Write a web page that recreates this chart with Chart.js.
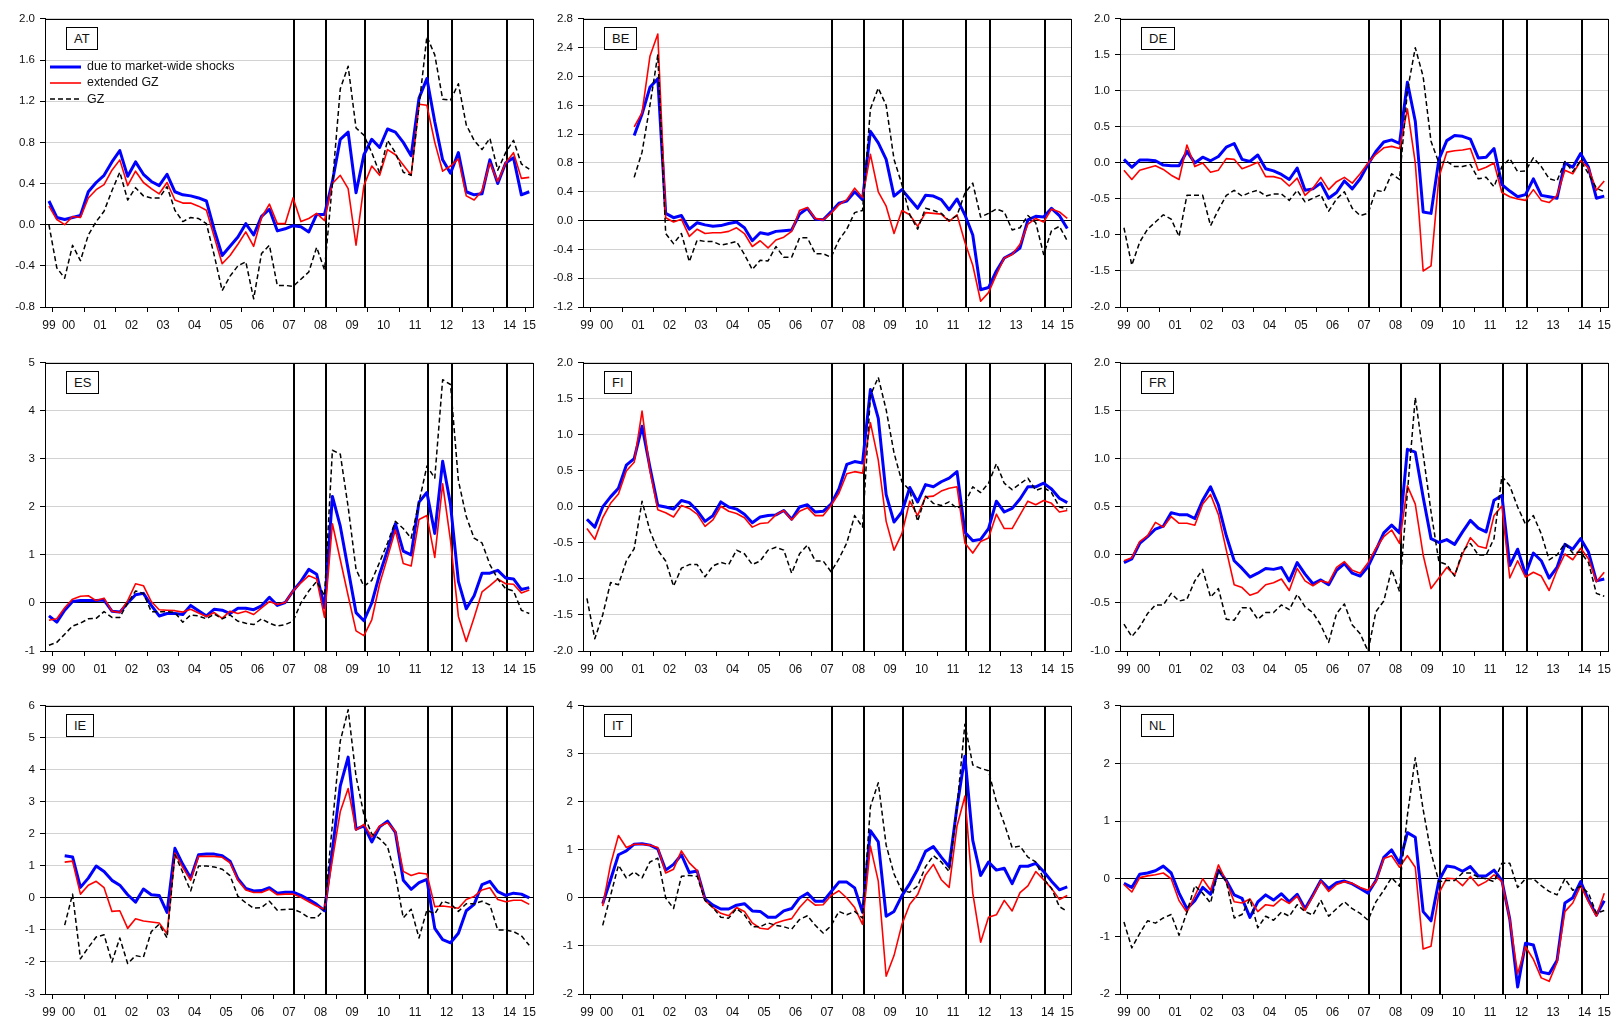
<!DOCTYPE html>
<html>
<head>
<meta charset="utf-8">
<script src="https://cdn.jsdelivr.net/npm/chart.js@4.4.1/dist/chart.umd.min.js"></script>
<style>
  body { margin:0; background:#fff; width:1618px; height:1019px; position:relative; overflow:hidden;
         font-family:"Liberation Sans", Arial, sans-serif; }
  canvas { position:absolute; }
  .tag { position:absolute; border:1px solid #000; background:#fff; font-size:13px; color:#111;
         padding:0 7px; height:21px; line-height:21px; }
  .legend { position:absolute; left:50px; top:58px; font-size:12.4px; color:#111; }
  .legend div { height:16.3px; line-height:16.3px; white-space:nowrap; }
  .legend svg { vertical-align:middle; margin-right:6px; }
</style>
</head>
<body>
<div id="wrap"></div>
<script>
//-------------------Data-------------------
// quarterly observations, each series starts at the given quarter
const xLabels = ['99','00','01','02','03','04','05','06','07','08','09','10','11','12','13','14','15'];
const yearTicks = [2000,2001,2002,2003,2004,2005,2006,2007,2008,2009,2010,2011,2012,2013,2014,2015];
const eventQuarters = ['2007Q3','2008Q3','2009Q4','2011Q4','2012Q3','2014Q2'];
const seriesNames = ['due to market-wide shocks', 'extended GZ', 'GZ'];

const AT_start = '1999Q4';
const AT_blue = [0.23, 0.07,0.05,0.07,0.09, 0.32,0.41,0.48,0.61, 0.72,0.47,0.61,0.49, 0.42,0.38,0.49,0.32,
  0.29,0.28,0.26,0.23, -0.05,-0.30,-0.21,-0.12, 0.01,-0.10,0.08,0.15, -0.06,-0.04,-0.01,-0.02,
  -0.07,0.10,0.10,0.42, 0.83,0.90,0.31,0.68, 0.83,0.75,0.93,0.90, 0.80,0.67,1.23,1.42,
  1.00,0.63,0.50,0.70, 0.32,0.29,0.30,0.63, 0.40,0.60,0.65,0.29, 0.32];
const AT_red = [0.18, 0.05,0.00,0.08,0.07, 0.26,0.34,0.39,0.53, 0.63,0.38,0.52,0.41, 0.35,0.30,0.41,0.24,
  0.21,0.21,0.18,0.14, -0.12,-0.38,-0.30,-0.19, -0.07,-0.21,0.07,0.20, 0.01,0.01,0.26,0.03,
  0.06,0.11,0.04,0.40, 0.48,0.35,-0.20,0.38, 0.57,0.48,0.73,0.68, 0.58,0.48,1.17,1.16,
  0.80,0.52,0.57,0.64, 0.28,0.24,0.33,0.60, 0.42,0.60,0.70,0.45, 0.46];
const AT_gz = [0.00, -0.42,-0.52,-0.20,-0.35, -0.10,0.03,0.13,0.33, 0.51,0.24,0.36,0.28, 0.26,0.26,0.37,0.14,
  0.03,0.07,0.06,0.01, -0.30,-0.64,-0.50,-0.40, -0.36,-0.72,-0.28,-0.20, -0.59,-0.59,-0.60,-0.53,
  -0.46,-0.22,-0.44,0.40, 1.32,1.54,0.94,0.87, 0.70,0.50,0.82,0.70, 0.51,0.48,1.15,1.83,
  1.65,1.22,1.21,1.37, 0.97,0.82,0.73,0.84, 0.53,0.70,0.82,0.59, 0.54];
const AT_ticks = [-0.8,-0.4,0,0.4,0.8,1.2,1.6,2.0];

const BE_start = '2001Q2';
const BE_blue = [1.18,1.48,1.85, 1.97,0.10,0.04,0.07, -0.12,-0.03,-0.06,-0.08, -0.07,-0.04,-0.02,-0.10,
  -0.28,-0.17,-0.19,-0.15, -0.14,-0.13,0.09,0.17, 0.02,0.01,0.12,0.24, 0.27,0.40,0.29,1.24,
  1.08,0.85,0.34,0.43, 0.30,0.17,0.35,0.34, 0.29,0.15,0.30,0.08, -0.20,-0.96,-0.93,-0.70,
  -0.52,-0.46,-0.38,0.01, 0.06,0.05,0.17,0.07, -0.11];
const BE_red = [1.30,1.50,2.28, 2.59,0.04,-0.02,0.02, -0.22,-0.12,-0.18,-0.17, -0.17,-0.15,-0.10,-0.18,
  -0.36,-0.28,-0.38,-0.27, -0.23,-0.15,0.14,0.18, 0.03,0.01,0.10,0.22, 0.29,0.45,0.32,0.92,
  0.40,0.20,-0.18,0.14, 0.08,-0.08,0.11,0.10, 0.09,-0.01,0.08,-0.30, -0.62,-1.12,-1.00,-0.75,
  -0.52,-0.47,-0.33,-0.05, 0.03,-0.02,0.16,0.12, 0.03];
const BE_gz = [0.60,0.95,1.60, 2.30,-0.18,-0.32,-0.18, -0.57,-0.27,-0.29,-0.29, -0.34,-0.32,-0.29,-0.47,
  -0.68,-0.55,-0.56,-0.36, -0.51,-0.51,-0.24,-0.24, -0.46,-0.46,-0.51,-0.27, -0.12,0.11,0.14,1.55,
  1.84,1.60,0.85,0.50, 0.08,-0.12,0.17,0.14, 0.10,0.00,0.07,0.38, 0.52,0.05,0.10,0.16,
  0.12,-0.13,-0.10,0.07, -0.03,-0.47,-0.14,-0.08, -0.28];
const BE_ticks = [-1.2,-0.8,-0.4,0,0.4,0.8,1.2,1.6,2.0,2.4,2.8];

const DE_start = '1999Q4';
const DE_blue = [0.05, -0.06,0.04,0.04,0.03, -0.03,-0.04,-0.04,0.16, 0.00,0.08,0.03,0.09, 0.22,0.27,0.05,0.02,
  0.11,-0.08,-0.11,-0.16, -0.23,-0.07,-0.38,-0.36, -0.28,-0.49,-0.41,-0.25, -0.36,-0.22,-0.02,0.16,
  0.29,0.32,0.27,1.12, 0.58,-0.68,-0.70,0.05, 0.31,0.38,0.37,0.33, 0.07,0.08,0.20,-0.30,
  -0.39,-0.47,-0.44,-0.22, -0.45,-0.47,-0.49,0.00, -0.06,0.13,-0.06,-0.49, -0.46];
const DE_red = [-0.10, -0.23,-0.10,-0.07,-0.04, -0.09,-0.17,-0.23,0.25, -0.05,0.00,-0.13,-0.10, 0.06,0.05,-0.08,-0.04,
  0.01,-0.19,-0.19,-0.22, -0.32,-0.21,-0.45,-0.35, -0.20,-0.37,-0.26,-0.20, -0.28,-0.15,0.00,0.12,
  0.21,0.23,0.20,0.75, 0.00,-1.50,-1.43,-0.20, 0.15,0.17,0.18,0.20, -0.10,-0.06,0.00,-0.41,
  -0.47,-0.50,-0.52,-0.37, -0.52,-0.55,-0.45,-0.10, -0.15,0.03,-0.07,-0.38, -0.25];
const DE_gz = [-0.90, -1.42,-1.10,-0.92,-0.82, -0.72,-0.78,-1.02,-0.45, -0.45,-0.45,-0.87,-0.65, -0.45,-0.38,-0.46,-0.41,
  -0.38,-0.46,-0.43,-0.43, -0.52,-0.38,-0.54,-0.49, -0.44,-0.67,-0.50,-0.40, -0.63,-0.73,-0.70,-0.38,
  -0.40,-0.15,-0.23,1.00, 1.60,1.20,0.30,0.00, 0.02,-0.05,-0.05,-0.02, -0.22,-0.20,-0.33,-0.05,
  0.06,-0.12,-0.11,0.07, -0.05,-0.22,-0.25,0.02, -0.12,0.03,-0.15,-0.35, -0.40];
const DE_ticks = [-2.0,-1.5,-1.0,-0.5,0,0.5,1.0,1.5,2.0];

const ES_start = '1999Q4';
const ES_blue = [-0.27, -0.40,-0.15,0.03,0.05, 0.05,0.05,0.06,-0.17, -0.19,0.00,0.17,0.20, -0.05,-0.27,-0.22,-0.22,
  -0.24,-0.05,-0.16,-0.27, -0.13,-0.15,-0.22,-0.11, -0.11,-0.14,-0.06,0.12, -0.05,0.01,0.25,0.45,
  0.70,0.60,-0.10,2.22, 1.60,0.70,-0.20,-0.37, 0.00,0.60,1.10,1.65, 1.08,1.00,2.10,2.30,
  1.45,2.95,2.05,0.45, -0.12,0.15,0.62,0.62, 0.68,0.52,0.50,0.28, 0.32];
const ES_red = [-0.36, -0.33,-0.10,0.08,0.14, 0.15,0.05,0.10,-0.17, -0.20,0.05,0.40,0.36, 0.03,-0.14,-0.15,-0.16,
  -0.19,-0.13,-0.21,-0.28, -0.20,-0.32,-0.17,-0.22, -0.17,-0.24,-0.10,0.03, -0.03,0.01,0.25,0.42,
  0.57,0.50,-0.30,1.65, 0.90,0.15,-0.58,-0.68, -0.35,0.40,0.95,1.52, 0.82,0.77,1.74,1.82,
  0.95,2.48,1.30,-0.28, -0.80,-0.30,0.23,0.36, 0.50,0.40,0.39,0.21, 0.27];
const ES_gz = [-0.88, -0.82,-0.65,-0.48,-0.42, -0.33,-0.32,-0.18,-0.30, -0.30,0.00,0.25,0.20, -0.18,-0.18,-0.18,-0.20,
  -0.40,-0.25,-0.27,-0.33, -0.23,-0.33,-0.25,-0.38, -0.42,-0.45,-0.33,-0.42, -0.48,-0.45,-0.38,0.00,
  0.25,0.45,0.15,3.18, 3.10,2.00,0.70,0.35, 0.47,0.85,1.25,1.70, 1.55,1.35,2.10,2.85,
  2.60,4.65,4.55,2.55, 1.80,1.35,1.25,0.80, 0.50,0.30,0.25,-0.15, -0.22];
const ES_ticks = [-1,0,1,2,3,4,5];

const FI_start = '1999Q4';
const FI_blue = [-0.17, -0.28,0.00,0.14,0.26, 0.58,0.67,1.12,0.55, 0.02,0.00,-0.03,0.09, 0.06,-0.05,-0.20,-0.12,
  0.07,0.00,-0.03,-0.10, -0.22,-0.14,-0.12,-0.11, -0.05,-0.17,0.00,0.03, -0.07,-0.06,0.04,0.25,
  0.59,0.63,0.61,1.63, 1.23,0.17,-0.21,-0.07, 0.27,0.07,0.31,0.28, 0.35,0.40,0.49,-0.35,
  -0.47,-0.45,-0.30,0.08, -0.07,-0.02,0.11,0.28, 0.28,0.33,0.25,0.12, 0.06];
const FI_red = [-0.30, -0.45,-0.15,0.05,0.18, 0.50,0.62,1.33,0.50, -0.04,-0.08,-0.14,0.02, -0.02,-0.10,-0.27,-0.18,
  0.01,-0.06,-0.09,-0.15, -0.28,-0.23,-0.22,-0.11, -0.05,-0.18,-0.06,-0.01, -0.12,-0.12,0.02,0.19,
  0.46,0.49,0.47,1.17, 0.65,-0.20,-0.60,-0.37, 0.08,-0.12,0.14,0.15, 0.22,0.26,0.28,-0.50,
  -0.64,-0.48,-0.43,-0.10, -0.30,-0.30,-0.11,0.08, 0.03,0.09,0.05,-0.07, -0.05];
const FI_gz = [-1.27, -1.83,-1.50,-1.05,-1.08, -0.75,-0.58,0.08,-0.33, -0.60,-0.75,-1.10,-0.85, -0.80,-0.80,-0.97,-0.82,
  -0.77,-0.80,-0.60,-0.65, -0.80,-0.75,-0.60,-0.56, -0.60,-0.92,-0.65,-0.53, -0.75,-0.75,-0.90,-0.72,
  -0.50,-0.12,-0.28,1.55, 1.80,1.35,0.75,0.35, 0.23,-0.20,0.15,0.05, 0.02,0.07,-0.02,0.05,
  0.28,0.20,0.33,0.60, 0.33,0.24,0.32,0.40, 0.23,0.27,0.20,0.00, -0.03];
const FI_ticks = [-2.0,-1.5,-1.0,-0.5,0,0.5,1.0,1.5,2.0];

const FR_start = '1999Q4';
const FR_blue = [-0.08, -0.04,0.12,0.19,0.27, 0.30,0.44,0.42,0.42, 0.38,0.57,0.71,0.52, 0.20,-0.06,-0.14,-0.23,
  -0.19,-0.14,-0.15,-0.13, -0.27,-0.08,-0.20,-0.30, -0.26,-0.31,-0.16,-0.09, -0.19,-0.22,-0.12,0.05,
  0.23,0.31,0.23,1.10, 1.07,0.60,0.17,0.13, 0.16,0.11,0.24,0.36, 0.28,0.24,0.57,0.62,
  -0.11,0.06,-0.20,0.02, -0.06,-0.24,-0.13,0.11, 0.06,0.17,0.03,-0.27, -0.25];
const FR_red = [-0.06, -0.03,0.14,0.20,0.34, 0.29,0.40,0.33,0.33, 0.31,0.53,0.63,0.42, 0.05,-0.31,-0.34,-0.42,
  -0.39,-0.31,-0.29,-0.25, -0.37,-0.14,-0.27,-0.32, -0.27,-0.29,-0.13,-0.07, -0.16,-0.19,-0.08,0.07,
  0.19,0.26,0.12,0.72, 0.53,0.00,-0.35,-0.24, -0.13,-0.21,0.01,0.18, 0.09,0.07,0.41,0.51,
  -0.24,-0.06,-0.23,-0.18, -0.22,-0.37,-0.16,0.01, -0.05,0.07,-0.04,-0.28, -0.18];
const FR_gz = [-0.72, -0.85,-0.75,-0.61,-0.52, -0.52,-0.40,-0.48,-0.46, -0.27,-0.15,-0.44,-0.35, -0.67,-0.68,-0.55,-0.55,
  -0.67,-0.60,-0.60,-0.52, -0.57,-0.41,-0.54,-0.60, -0.73,-0.91,-0.61,-0.51, -0.73,-0.82,-1.00,-0.59,
  -0.48,-0.15,-0.38,0.65, 1.64,1.05,0.45,-0.07, -0.10,-0.22,0.04,0.12, 0.00,0.00,0.17,0.82,
  0.72,0.50,0.32,0.41, 0.22,-0.05,0.00,0.12, 0.02,0.03,-0.08,-0.40, -0.43];
const FR_ticks = [-1.0,-0.5,0,0.5,1.0,1.5,2.0];

const IE_start = '2000Q2';
const IE_blue = [1.32,1.28,0.33, 0.62,1.00,0.83,0.55, 0.40,0.10,-0.13,0.28, 0.10,0.08,-0.45,1.55,
  1.05,0.62,1.35,1.37, 1.37,1.32,1.15,0.60, 0.30,0.22,0.23,0.32, 0.15,0.18,0.18,0.08,
  -0.05,-0.20,-0.40,1.50, 3.50,4.40,2.15,2.25, 1.75,2.22,2.40,2.05, 0.55,0.27,0.48,0.58,
  -0.95,-1.30,-1.40,-1.10, -0.40,-0.20,0.42,0.52, 0.20,0.08,0.15,0.12, 0.00];
const IE_red = [1.12,1.15,0.12, 0.40,0.52,0.32,-0.42, -0.40,-0.95,-0.65,-0.72, -0.75,-0.78,-1.12,1.40,
  0.95,0.55,1.30,1.30, 1.30,1.27,1.10,0.55, 0.25,0.17,0.17,0.27, 0.10,0.12,0.12,0.02,
  -0.12,-0.25,-0.35,1.20, 2.70,3.42,2.12,2.30, 1.90,2.25,2.35,2.08, 0.83,0.70,0.78,0.75,
  -0.27,-0.25,-0.28,-0.32, -0.05,0.05,0.25,0.32, -0.05,-0.12,-0.07,-0.07, -0.20];
const IE_gz = [-0.85,0.12,-1.90, -1.55,-1.22,-1.15,-2.00, -1.25,-2.05,-1.80,-1.85, -1.05,-0.82,-1.25,1.35,
  0.80,0.22,1.00,1.00, 0.97,0.90,0.70,0.05, -0.15,-0.32,-0.30,-0.10, -0.38,-0.36,-0.35,-0.45,
  -0.62,-0.62,-0.35,2.30, 4.90,5.88,3.80,2.60, 2.00,1.85,1.60,0.70, -0.62,-0.35,-1.25,-0.38,
  -0.50,-0.10,-0.18,-0.42, -0.18,-0.18,-0.10,-0.22, -1.00,-1.00,-1.05,-1.18, -1.48];
const IE_ticks = [-3,-2,-1,0,1,2,3,4,5,6];

const IT_start = '2000Q2';
const IT_blue = [-0.12,0.38,0.90, 0.98,1.12,1.13,1.10, 1.02,0.58,0.70,0.90, 0.53,0.56,-0.02,-0.15,
  -0.23,-0.23,-0.15,-0.12, -0.27,-0.28,-0.40,-0.40, -0.27,-0.22,0.00,0.10, -0.07,-0.07,0.13,0.33,
  0.33,0.21,-0.30,1.40, 1.17,-0.38,-0.28,0.05, 0.30,0.60,0.97,1.07, 0.85,0.65,1.90,2.95,
  1.20,0.47,0.75,0.58, 0.62,0.30,0.66,0.66, 0.72,0.55,0.35,0.17, 0.23];
const IT_red = [-0.17,0.70,1.30, 1.05,1.12,1.12,1.10, 1.05,0.52,0.60,0.98, 0.73,0.57,-0.05,-0.20,
  -0.32,-0.37,-0.20,-0.28, -0.52,-0.63,-0.65,-0.52, -0.47,-0.43,-0.20,-0.02, -0.15,-0.14,0.05,0.15,
  0.00,-0.20,-0.55,1.08, 0.35,-1.63,-1.20,-0.55, -0.13,0.07,0.48,0.70, 0.38,0.22,1.50,2.12,
  0.10,-0.92,-0.40,-0.35, -0.05,-0.27,0.11,0.25, 0.55,0.38,0.20,-0.03, 0.05];
const IT_gz = [-0.57,0.05,0.68, 0.42,0.54,0.42,0.75, 0.83,0.00,-0.22,0.45, 0.47,0.45,-0.05,-0.20,
  -0.40,-0.42,-0.22,-0.35, -0.60,-0.60,-0.52,-0.57, -0.60,-0.65,-0.45,-0.37, -0.57,-0.73,-0.58,-0.28,
  -0.35,-0.28,-0.42,1.90, 2.40,1.10,0.50,0.15, 0.12,0.25,0.65,0.88, 0.75,0.55,1.90,3.62,
  2.77,2.70,2.65,2.00, 1.55,1.05,1.08,0.85, 0.75,0.40,0.20,-0.18, -0.28];
const IT_ticks = [-2,-1,0,1,2,3,4];

const NL_start = '1999Q4';
const NL_blue = [-0.08, -0.15,0.08,0.10,0.14, 0.22,0.10,-0.25,-0.52, -0.38,-0.15,-0.27,0.15, -0.03,-0.28,-0.34,-0.67,
  -0.40,-0.28,-0.37,-0.26, -0.40,-0.27,-0.52,-0.28, -0.03,-0.17,-0.07,-0.04, -0.09,-0.17,-0.25,-0.03,
  0.37,0.50,0.27,0.80, 0.72,-0.57,-0.73,-0.03, 0.22,0.20,0.13,0.21, 0.05,0.05,0.15,-0.03,
  -0.70,-1.88,-1.12,-1.15, -1.62,-1.65,-1.42,-0.42, -0.33,-0.05,-0.37,-0.63, -0.38];
const NL_red = [-0.10, -0.23,0.02,0.05,0.07, 0.10,0.00,-0.38,-0.58, -0.30,0.00,-0.20,0.24, -0.05,-0.40,-0.42,-0.35,
  -0.57,-0.45,-0.47,-0.35, -0.43,-0.30,-0.55,-0.30, -0.04,-0.22,-0.10,-0.05, -0.08,-0.15,-0.20,-0.05,
  0.35,0.40,0.20,0.40, 0.20,-1.22,-1.17,-0.25, 0.01,0.00,-0.12,0.04, -0.12,-0.05,0.07,-0.05,
  -0.70,-1.65,-1.18,-1.40, -1.72,-1.78,-1.45,-0.57, -0.42,-0.12,-0.40,-0.65, -0.25];
const NL_gz = [-0.75, -1.20,-0.95,-0.73,-0.77, -0.68,-0.62,-0.98,-0.58, -0.12,-0.25,-0.42,0.15, -0.05,-0.68,-0.62,-0.35,
  -0.85,-0.65,-0.72,-0.58, -0.65,-0.45,-0.57,-0.63, -0.37,-0.65,-0.52,-0.40, -0.52,-0.60,-0.72,-0.40,
  -0.20,0.02,-0.13,1.10, 2.10,1.20,0.45,-0.05, -0.03,-0.03,0.10,0.10, 0.03,0.00,-0.05,0.27,
  0.27,-0.15,0.00,0.00, -0.12,-0.22,-0.28,0.00, -0.20,-0.13,-0.25,-0.60, -0.55];
const NL_ticks = [-2,-1,0,1,2,3];

//-------------------Functions-------------------
// quarter string -> position on the time axis (middle of the quarter)
function qNum(s) {
  const y = +s.slice(0, 4), q = +s.slice(5);
  return y + (q - 1) / 4 + 0.125;
}
const X_MIN = 1999.75, X_MAX = 2015.25;

function toPoints(start, vals) {
  const t0 = qNum(start);
  return vals.map((v, k) => ({ x: t0 + 0.25 * k, y: v }));
}

// year labels sit in the middle of the visible part of each year
const labelPos = xLabels.map((s, k) => {
  const y = 1999 + k;
  return (Math.max(y, X_MIN) + Math.min(y + 1, X_MAX)) / 2;
});

const eventLines = {
  id: 'eventLines',
  beforeDatasetsDraw(chart) {
    const { ctx, chartArea: a, scales } = chart;
    ctx.save();
    ctx.strokeStyle = '#000';
    ctx.lineWidth = 2;
    eventQuarters.forEach(q => {
      const px = Math.round(scales.x.getPixelForValue(qNum(q))) + 1;
      ctx.beginPath();
      ctx.moveTo(px, a.top);
      ctx.lineTo(px, a.bottom);
      ctx.stroke();
    });
    ctx.restore();
  },
  afterDraw(chart) {
    const { ctx, chartArea: a } = chart;
    ctx.save();
    ctx.strokeStyle = '#000';
    ctx.lineWidth = 1;
    ctx.strokeRect(Math.round(a.left) + 0.5, Math.round(a.top) + 0.5,
                   Math.round(a.right - a.left), Math.round(a.bottom - a.top));
    ctx.restore();
  }
};

function drawPanel(p, left, top) {
  const PW = 489, PH = 292, YW = 45, PADT = 8, PADR = 8, XB = 30;
  const canvas = document.createElement('canvas');
  canvas.width = PW + YW + PADR;
  canvas.height = PH + PADT + XB;
  canvas.style.left = (left - YW) + 'px';
  canvas.style.top = (top - PADT) + 'px';
  document.getElementById('wrap').appendChild(canvas);

  const tag = document.createElement('div');
  tag.className = 'tag';
  tag.textContent = p.name;
  tag.style.left = (left + 21) + 'px';
  tag.style.top = (top + 12) + 'px';
  document.getElementById('wrap').appendChild(tag);

  const font = { family: '"Liberation Sans", Arial, sans-serif', size: 11.5 };

  new Chart(canvas.getContext('2d'), {
    type: 'line',
    data: {
      datasets: [
        { label: seriesNames[0], data: toPoints(p.start, p.blue), borderColor: '#0000ff', borderWidth: 3, order: 3 },
        { label: seriesNames[1], data: toPoints(p.start, p.red), borderColor: '#ff0000', borderWidth: 1.6, order: 2 },
        { label: seriesNames[2], data: toPoints(p.start, p.gz), borderColor: '#000', borderWidth: 1.5, borderDash: [5, 3], order: 1 }
      ]
    },
    options: {
      responsive: false,
      animation: false,
      layout: { padding: { top: PADT, right: PADR, left: 0, bottom: 0 } },
      plugins: { legend: { display: false }, tooltip: { enabled: false } },
      elements: { point: { radius: 0 }, line: { tension: 0, borderJoinStyle: 'round' } },
      scales: {
        x: {
          type: 'linear', position: 'bottom', min: X_MIN, max: X_MAX, weight: 0,
          afterBuildTicks: a => { a.ticks = yearTicks.map(v => ({ value: v })); },
          afterFit: a => { a.height = 5; },
          ticks: { display: false },
          grid: { display: true, drawOnChartArea: false, drawTicks: true, tickLength: 5, tickColor: '#000' },
          border: { display: true, color: '#000' }
        },
        xl: {
          type: 'linear', position: 'bottom', min: X_MIN, max: X_MAX, weight: 1,
          afterBuildTicks: a => { a.ticks = labelPos.map(v => ({ value: v })); },
          afterFit: a => { a.height = XB - 5; },
          ticks: { autoSkip: false, maxRotation: 0, padding: 6, color: '#111',
                   font: { family: font.family, size: 12 },
                   callback: (v, i) => xLabels[i] },
          grid: { display: false, drawTicks: false },
          border: { display: false }
        },
        y: {
          min: p.ticks[0], max: p.ticks[p.ticks.length - 1],
          afterBuildTicks: a => { a.ticks = p.ticks.map(v => ({ value: v })); },
          afterFit: a => { a.width = YW; },
          ticks: { padding: 5, color: '#111', font: font, callback: v => v.toFixed(p.dec) },
          grid: {
            color: c => (c.tick && Math.abs(c.tick.value) < 1e-9) ? '#000' : '#d2d2d2',
            lineWidth: 1, tickLength: 5, tickColor: '#000'
          },
          border: { display: true, color: '#000' }
        }
      }
    },
    plugins: [eventLines]
  });
}

//-------------------Main-------------------
const panels = [
  { name: 'AT', start: AT_start, blue: AT_blue, red: AT_red, gz: AT_gz, ticks: AT_ticks, dec: 1 },
  { name: 'BE', start: BE_start, blue: BE_blue, red: BE_red, gz: BE_gz, ticks: BE_ticks, dec: 1 },
  { name: 'DE', start: DE_start, blue: DE_blue, red: DE_red, gz: DE_gz, ticks: DE_ticks, dec: 1 },
  { name: 'ES', start: ES_start, blue: ES_blue, red: ES_red, gz: ES_gz, ticks: ES_ticks, dec: 0 },
  { name: 'FI', start: FI_start, blue: FI_blue, red: FI_red, gz: FI_gz, ticks: FI_ticks, dec: 1 },
  { name: 'FR', start: FR_start, blue: FR_blue, red: FR_red, gz: FR_gz, ticks: FR_ticks, dec: 1 },
  { name: 'IE', start: IE_start, blue: IE_blue, red: IE_red, gz: IE_gz, ticks: IE_ticks, dec: 0 },
  { name: 'IT', start: IT_start, blue: IT_blue, red: IT_red, gz: IT_gz, ticks: IT_ticks, dec: 0 },
  { name: 'NL', start: NL_start, blue: NL_blue, red: NL_red, gz: NL_gz, ticks: NL_ticks, dec: 0 }
];
const colLeft = [45, 583, 1120];
const rowTop = [15, 359, 702];

panels.forEach((p, k) => drawPanel(p, colLeft[k % 3], rowTop[Math.floor(k / 3)]));

// legend of the first panel
const lg = document.createElement('div');
lg.className = 'legend';
const swatch = [
  '<line x1="0" y1="4" x2="31" y2="4" stroke="#0000ff" stroke-width="3"/>',
  '<line x1="0" y1="4" x2="31" y2="4" stroke="#ff0000" stroke-width="1.6"/>',
  '<line x1="0" y1="4" x2="31" y2="4" stroke="#000" stroke-width="1.5" stroke-dasharray="5,3"/>'
];
seriesNames.forEach((s, k) => {
  const row = document.createElement('div');
  row.innerHTML = '<svg width="31" height="8">' + swatch[k] + '</svg>';
  row.appendChild(document.createTextNode(s));
  lg.appendChild(row);
});
document.getElementById('wrap').appendChild(lg);
</script>
</body>
</html>
